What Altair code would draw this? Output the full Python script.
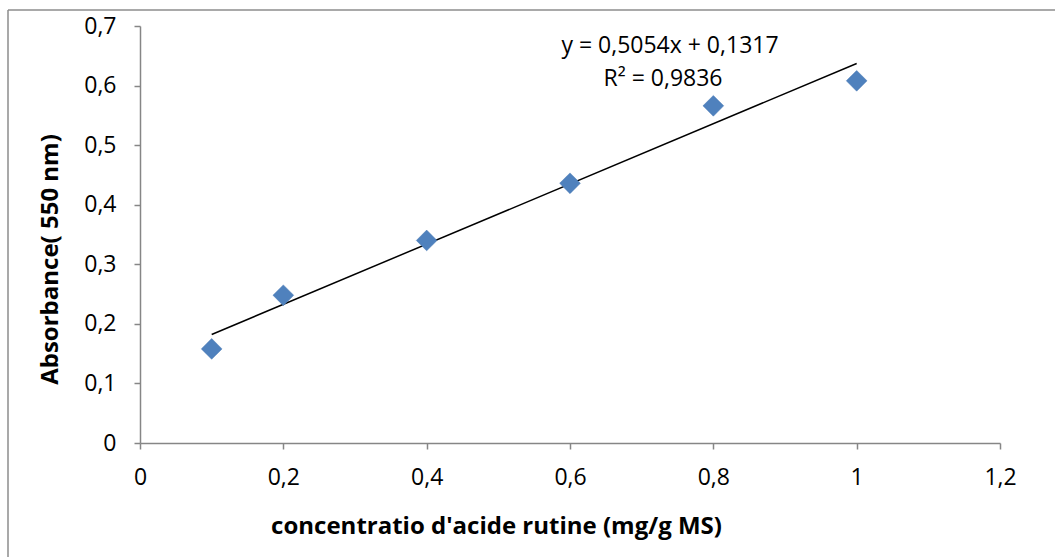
import altair as alt
import pandas as pd

# Calibration points: rutin concentration vs absorbance
concentration = [0.1, 0.2, 0.4, 0.6, 0.8, 1.0]
absorbance = [0.158, 0.248, 0.340, 0.436, 0.566, 0.608]

# Linear fit reported on the chart
slope = 0.5054
intercept = 0.1317
r_squared = 0.9836

x_ticks = [0, 0.2, 0.4, 0.6, 0.8, 1.0, 1.2]
y_ticks = [0, 0.1, 0.2, 0.3, 0.4, 0.5, 0.6, 0.7]

FONT = "Open Sans"
AXIS_GRAY = "#868686"

points = pd.DataFrame({"x": concentration, "y": absorbance})
fit_x = [min(concentration), max(concentration)]
fit = pd.DataFrame({"x": fit_x, "y": [slope * v + intercept for v in fit_x]})

comma = "replace(format(datum.value, '~g'), '.', ',')"

x_enc = alt.X(
    "x:Q",
    scale=alt.Scale(domain=[0, 1.2], nice=False, zero=True),
    axis=alt.Axis(
        values=x_ticks, labelExpr=comma, grid=False, labelFlush=False,
        title="concentratio d'acide rutine (mg/g MS)",
        titleX=356, titleY=83, titleAnchor="middle", titleBaseline="middle",
    ),
)
y_enc = alt.Y(
    "y:Q",
    scale=alt.Scale(domain=[0, 0.7], nice=False),
    axis=alt.Axis(
        values=y_ticks, labelExpr=comma, grid=False, labelFlush=False,
        title="Absorbance( 550 nm)",
        titleX=-90, titleY=233, titleAnchor="middle", titleBaseline="middle",
    ),
)

scatter = alt.Chart(points).mark_point(
    shape="diamond", filled=True, size=430, color="#4F81BD", opacity=1,
    stroke="#4A7AB5", strokeWidth=0.5,
).encode(x=x_enc, y=y_enc)

trend = alt.Chart(fit).mark_line(color="black", strokeWidth=1.5).encode(
    x="x:Q", y="y:Q"
)

equation = alt.Chart(pd.DataFrame({"t": [
    f"y = {str(slope).replace('.', ',')}x + {str(intercept).replace('.', ',')}"
]})).mark_text(font=FONT, fontSize=23, color="black", align="center", baseline="middle").encode(
    text="t:N", x=alt.value(530), y=alt.value(20)
)
r2 = alt.Chart(pd.DataFrame({"t": [f"R² = {str(r_squared).replace('.', ',')}"]})).mark_text(
    font=FONT, fontSize=23, color="black", align="center", baseline="middle"
).encode(text="t:N", x=alt.value(523), y=alt.value(53))

# Outer chart frame (top and left edges)
frame_top = alt.Chart(pd.DataFrame({"a": [0]})).mark_rule(color="#8C8C8C", strokeWidth=1.5).encode(
    x=alt.value(-132), x2=alt.value(920), y=alt.value(-16)
)
frame_left = alt.Chart(pd.DataFrame({"a": [0]})).mark_rule(color="#8C8C8C", strokeWidth=1.5).encode(
    x=alt.value(-132), y=alt.value(-16), y2=alt.value(540)
)

chart = (
    alt.layer(frame_top, frame_left, trend, scatter, equation, r2)
    .properties(
        width=860, height=417,
        autosize=alt.AutoSizeParams(type="none"),
        padding={"left": 140, "top": 26, "right": 55, "bottom": 114},
    )
    .configure_view(stroke=None)
    .configure_axis(
        labelFont=FONT, labelFontSize=23, labelColor="black",
        titleFont=FONT, titleFontSize=24, titleFontWeight="bold", titleColor="black",
        domainColor=AXIS_GRAY, domainWidth=1.5, tickColor=AXIS_GRAY, tickWidth=1.5,
        tickSize=6,
    )
    .configure_axisX(labelPadding=17)
    .configure_axisY(labelPadding=18)
)

chart.save("out.html", embed_options={"renderer": "svg", "actions": False})
